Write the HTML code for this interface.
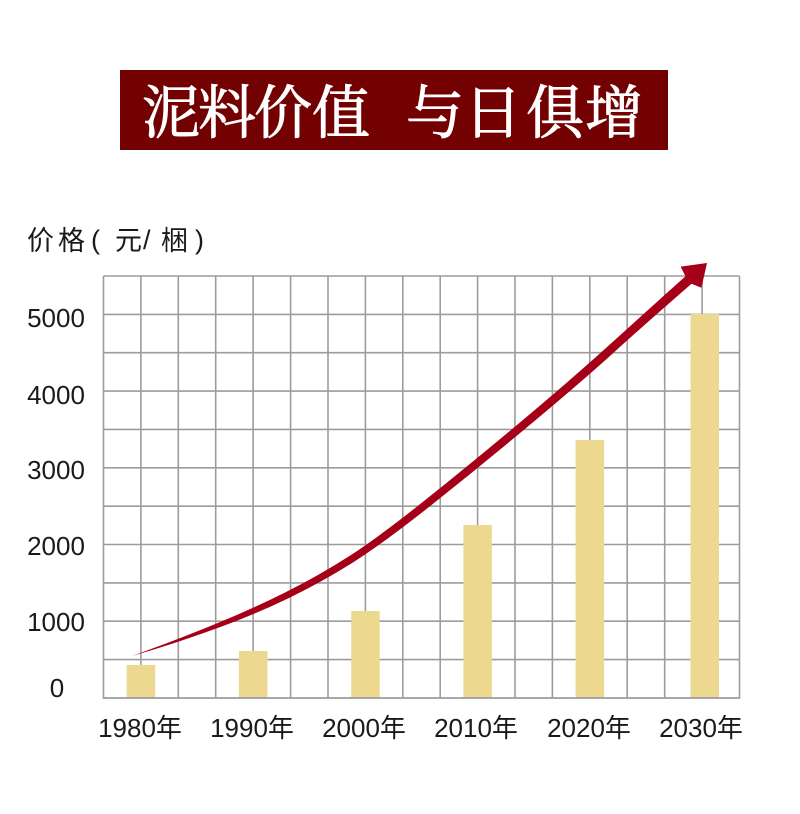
<!DOCTYPE html>
<html>
<head>
<meta charset="utf-8">
<style>
  html, body { margin: 0; padding: 0; background: #ffffff; }
  body { width: 800px; height: 814px; overflow: hidden; }
  svg { display: block; }
  .t { font-family: "Liberation Serif", "Noto Serif CJK SC", serif; font-weight: 400; font-size: 58px; fill: #ffffff; stroke: #ffffff; stroke-width: 0.9; }
  .l { font-family: "Liberation Sans", "Noto Sans CJK SC", sans-serif; font-size: 26px; fill: #1a1a1a; }
  .a { font-family: "Liberation Sans", "Noto Sans CJK SC", sans-serif; font-size: 27px; fill: #1a1a1a; }
</style>
</head>
<body>
<svg width="800" height="814" viewBox="0 0 800 814" xmlns="http://www.w3.org/2000/svg">
  <rect x="0" y="0" width="800" height="814" fill="#ffffff"/>

  <!-- Title banner -->
  <rect x="120" y="70" width="548" height="80" fill="#730101"/>
  <g class="t" text-anchor="middle">
    <text x="171" y="133">泥</text>
    <text x="227" y="133">料</text>
    <text x="283" y="133">价</text>
    <text x="341" y="133">值</text>
    <text x="435" y="133">与</text>
    <text x="493" y="133">日</text>
    <text x="555" y="133">俱</text>
    <text x="614" y="133">增</text>
  </g>

  <!-- Axis title -->
  <g class="a">
    <text x="27" y="250">价</text>
    <text x="58" y="250">格</text>
    <text x="91" y="249" font-family="Liberation Sans, sans-serif">(</text>
    <text x="115" y="250">元</text>
    <text x="143" y="249" font-family="Liberation Sans, sans-serif">/</text>
    <text x="161" y="250">梱</text>
    <text x="195" y="249" font-family="Liberation Sans, sans-serif">)</text>
  </g>

  <!-- Grid -->
  <g stroke="#9c9c9c" stroke-width="1.6" fill="none">
    <line x1="103.5" y1="276" x2="103.5" y2="698"/>
    <line x1="140.9" y1="276" x2="140.9" y2="698"/>
    <line x1="178.3" y1="276" x2="178.3" y2="698"/>
    <line x1="215.7" y1="276" x2="215.7" y2="698"/>
    <line x1="253.1" y1="276" x2="253.1" y2="698"/>
    <line x1="290.6" y1="276" x2="290.6" y2="698"/>
    <line x1="328.0" y1="276" x2="328.0" y2="698"/>
    <line x1="365.4" y1="276" x2="365.4" y2="698"/>
    <line x1="402.8" y1="276" x2="402.8" y2="698"/>
    <line x1="440.2" y1="276" x2="440.2" y2="698"/>
    <line x1="477.6" y1="276" x2="477.6" y2="698"/>
    <line x1="515.0" y1="276" x2="515.0" y2="698"/>
    <line x1="552.4" y1="276" x2="552.4" y2="698"/>
    <line x1="589.8" y1="276" x2="589.8" y2="698"/>
    <line x1="627.2" y1="276" x2="627.2" y2="698"/>
    <line x1="664.7" y1="276" x2="664.7" y2="698"/>
    <line x1="702.1" y1="276" x2="702.1" y2="698"/>
    <line x1="739.5" y1="276" x2="739.5" y2="698"/>

    <line x1="103.5" y1="276" x2="739.5" y2="276"/>
    <line x1="103.5" y1="314.4" x2="739.5" y2="314.4"/>
    <line x1="103.5" y1="352.7" x2="739.5" y2="352.7"/>
    <line x1="103.5" y1="391.1" x2="739.5" y2="391.1"/>
    <line x1="103.5" y1="429.4" x2="739.5" y2="429.4"/>
    <line x1="103.5" y1="467.8" x2="739.5" y2="467.8"/>
    <line x1="103.5" y1="506.2" x2="739.5" y2="506.2"/>
    <line x1="103.5" y1="544.5" x2="739.5" y2="544.5"/>
    <line x1="103.5" y1="582.9" x2="739.5" y2="582.9"/>
    <line x1="103.5" y1="621.2" x2="739.5" y2="621.2"/>
    <line x1="103.5" y1="659.6" x2="739.5" y2="659.6"/>
  </g>

  <!-- Bars -->
  <g fill="#ecd88e">
    <rect x="126.7" y="665" width="28.5" height="32.5"/>
    <rect x="238.9" y="651" width="28.5" height="46.5"/>
    <rect x="351.2" y="611" width="28.5" height="86.5"/>
    <rect x="463.4" y="525" width="28.5" height="172.5"/>
    <rect x="575.6" y="440" width="28.5" height="257.5"/>
    <rect x="690.5" y="314" width="28.5" height="383.5"/>
  </g>

  <!-- Bottom axis -->
  <line x1="102.7" y1="698" x2="740.3" y2="698" stroke="#9c9c9c" stroke-width="1.8"/>

  <!-- Arrow -->
  <path fill="#a50017" d="
    M132,656
    L155.75,647.3
    Q179.5,638.6 215.65,623.9
    Q251.8,609.2 285.05,592.55
    Q318.3,575.9 348.05,556.9
    Q377.8,537.9 426.65,498.9
    Q475.5,459.9 524.85,418.35
    Q574.2,376.8 605.65,348.3
    Q637.1,319.8 661.3,298
    L685.5,276.2
    L680.6,266.6
    L707,263
    L701.4,287.8
    L691.5,283.8
    L667.2,305
    Q642.9,326.2 611.35,354.7
    Q579.8,383.2 530.15,424.65
    Q480.5,466.1 431.35,505.1
    Q382.2,544.1 351.95,563.1
    Q321.7,582.1 287.95,598.45
    Q254.2,614.8 217.35,628.1
    Q180.5,641.4 156.25,648.7
    Z"/>

  <!-- Y labels -->
  <g class="l" text-anchor="middle">
    <text x="56" y="327">5000</text>
    <text x="56" y="404">4000</text>
    <text x="56" y="479">3000</text>
    <text x="56" y="555">2000</text>
    <text x="56" y="631">1000</text>
    <text x="57" y="697">0</text>
  </g>

  <!-- X labels -->
  <g class="l" text-anchor="middle">
    <text x="140" y="737">1980年</text>
    <text x="252" y="737">1990年</text>
    <text x="364" y="737">2000年</text>
    <text x="476" y="737">2010年</text>
    <text x="589" y="737">2020年</text>
    <text x="701" y="737">2030年</text>
  </g>
</svg>
</body>
</html>
